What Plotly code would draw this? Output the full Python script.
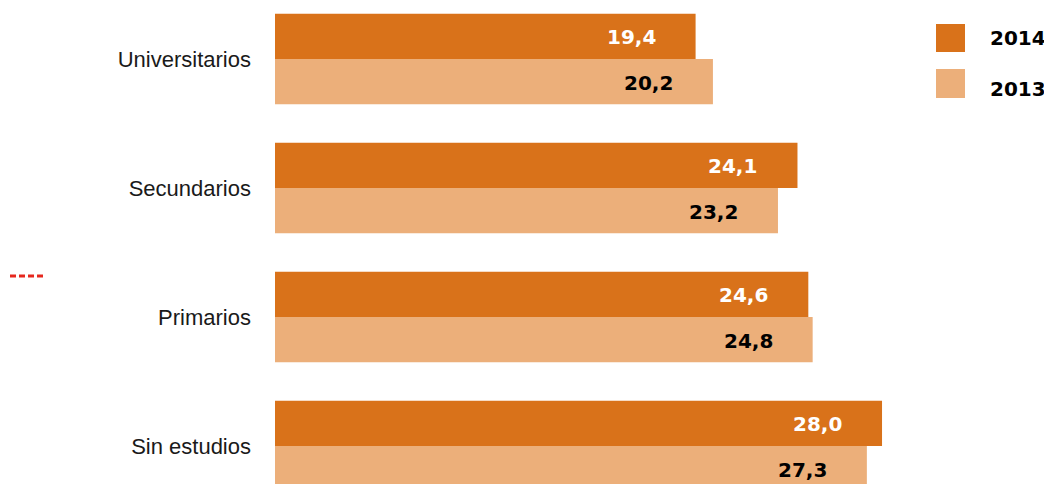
import plotly.graph_objects as go

categories = ["Universitarios", "Secundarios", "Primarios", "Sin estudios"]
values_2014 = [19.4, 24.1, 24.6, 28.0]
values_2013 = [20.2, 23.2, 24.8, 27.3]
series_names = ["2014", "2013"]

C2014 = "rgb(217,114,26)"
C2013 = "rgb(236,175,122)"

# page body has an 8px margin; figure sized to fit the window without scrolling
W, H = 1044, 476
ML = 267
PW = W - ML


def px(xfig):
    return (xfig - ML) / PW


def py(yfig):
    return 1 - yfig / H


fig = go.Figure()
fig.add_trace(go.Bar(y=categories, x=values_2014, orientation="h", name=series_names[0],
                     marker=dict(color=C2014, line=dict(width=0)), showlegend=False,
                     hoverinfo="x+y"))
fig.add_trace(go.Bar(y=categories, x=values_2013, orientation="h", name=series_names[1],
                     marker=dict(color=C2013, line=dict(width=0)), showlegend=False,
                     hoverinfo="x+y"))


def fmt(v):
    return f"{v:.1f}".replace(".", ",")


annotations = []
for cat, v in zip(categories, values_2014):
    annotations.append(dict(x=v, y=cat, xref="x", yref="y", text=fmt(v), showarrow=False,
                            xanchor="right", yanchor="middle", xshift=-38, yshift=22,
                            font=dict(family="DejaVu Sans", size=20, color="white", weight="bold")))
for cat, v in zip(categories, values_2013):
    annotations.append(dict(x=v, y=cat, xref="x", yref="y", text=fmt(v), showarrow=False,
                            xanchor="right", yanchor="middle", xshift=-38, yshift=-24,
                            font=dict(family="DejaVu Sans", size=20, color="black", weight="bold")))

# custom legend (reference pixel positions minus the 8px page margin)
shapes = []
leg_y = [(16, 44), (61, 90)]
leg_col = [C2014, C2013]
leg_text_y = [30, 81]
for (y0, y1), col, ty, name in zip(leg_y, leg_col, leg_text_y, series_names):
    shapes.append(dict(type="rect", xref="paper", yref="paper",
                       x0=px(928), x1=px(957), y0=py(y1), y1=py(y0),
                       fillcolor=col, line=dict(width=0)))
    annotations.append(dict(x=px(980), y=py(ty), xref="paper", yref="paper", text=name,
                            showarrow=False, xanchor="left", yanchor="middle",
                            font=dict(family="DejaVu Sans", size=20, color="black", weight="bold")))

# small red dashed mark at left
shapes.append(dict(type="line", xref="paper", yref="paper", x0=px(2), x1=px(38),
                   y0=py(268), y1=py(268),
                   line=dict(color="rgb(230,40,30)", width=3, dash="6px,3px")))

fig.update_layout(
    width=W, height=H,
    margin=dict(l=ML, r=0, t=0, b=0),
    paper_bgcolor="white", plot_bgcolor="white",
    barmode="group", bargap=0.3, bargroupgap=0,
    annotations=annotations, shapes=shapes,
    xaxis=dict(range=[0, 35.84 * PW / 777], showgrid=False, zeroline=False, showticklabels=False,
               showline=False, ticks=""),
    yaxis=dict(range=[(H - 51) / 129, -51 / 129], showgrid=False, zeroline=False, showline=False,
               ticks="", ticklabelstandoff=23,
               tickfont=dict(family="Liberation Sans", size=22, color="#1a1a1a")),
    font=dict(family="Liberation Sans"),
)

fig.write_html("out.html")
